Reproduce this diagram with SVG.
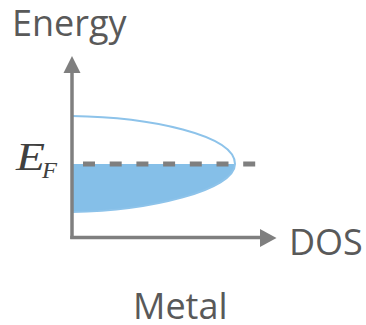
<svg xmlns="http://www.w3.org/2000/svg" width="366" height="325" viewBox="0 0 366 325">
<style>
.lbl{font-family:"Open Sans","Liberation Sans",sans-serif;font-size:36px;fill:#595959}
.math{font-family:"Liberation Serif","DejaVu Serif",serif;font-style:italic;fill:#404040}
.axis{stroke:#7F7F7F;stroke-width:3.5;fill:none}
.head{fill:#7F7F7F}
</style>
<rect width="366" height="325" fill="#FFFFFF"/>
<g id="dos-curve">
<path d="M72,164 L235,164 C235,190 150,211 72,212 Z" fill="#85BFE8"/>
<path d="M72,116 C150,117 235,135 235,164 C235,190 150,211 72,212" fill="none" stroke="#8DC3EA" stroke-width="2"/>
</g>
<g id="fermi-level">
<line x1="83" y1="164" x2="258" y2="164" stroke="#7F7F7F" stroke-width="5" stroke-dasharray="12 14.7"/>
</g>
<g id="axes">
<line class="axis" x1="72" y1="70" x2="72" y2="239"/>
<line class="axis" x1="70.25" y1="237.5" x2="262" y2="237.5"/>
<polygon class="head" points="72,56 80.5,73 63.5,73"/>
<polygon class="head" points="276.5,238 260,229 260,247"/>
</g>
<text class="lbl" x="12" y="36">Energy</text>
<text class="lbl" x="289" y="255">DOS</text>
<text class="lbl" x="133" y="319">Metal</text>
<text class="math" x="16" y="170" font-size="40"><tspan textLength="29" lengthAdjust="spacingAndGlyphs">E</tspan><tspan x="42" y="178" font-size="24" textLength="15" lengthAdjust="spacingAndGlyphs">F</tspan></text>
</svg>
